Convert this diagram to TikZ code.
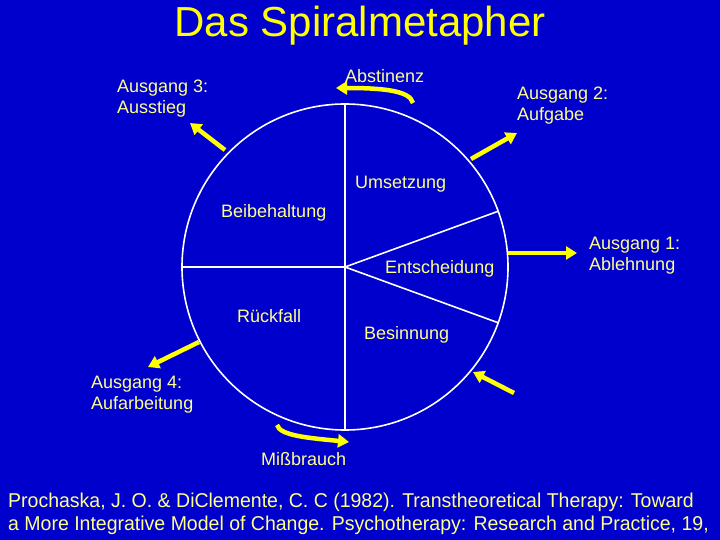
\documentclass[tikz,border=0pt]{standalone}
\usepackage{fontspec}
\setmainfont{Liberation Sans}
\usetikzlibrary{arrows.meta}
\definecolor{bg}{RGB}{0,0,204}
\definecolor{ttl}{RGB}{255,255,0}
\definecolor{lbl}{RGB}{255,255,140}
\definecolor{arr}{RGB}{255,255,0}
\tikzset{
  lab/.style={anchor=base west, inner sep=0pt, text=lbl, font=\fontsize{18}{21}\selectfont, align=left},
  citestyle/.style={anchor=base west, inner sep=0pt, text=lbl, font=\fontsize{20}{23}\selectfont},
  ring/.style={draw=white, line width=1.6pt},
  yarrow/.style={draw=arr, line width=4.5pt, -{Triangle[length=11pt,width=13pt]}},
}
\begin{document}
\begin{tikzpicture}[x=1pt,y=-1pt]
\fill[bg] (0,0) rectangle (720,540);
\useasboundingbox (0,0) rectangle (720,540);
% title
\node[anchor=base, inner sep=0pt, text=ttl, font=\fontsize{42}{44}\selectfont] (title) at (360,37) {Das Spiralmetapher};
% circle and sectors
\coordinate (c) at (345,267);
\draw[ring] (c) circle[radius=163pt];
\draw[ring] (345,104) -- (345,430);
\draw[ring] (182,267) -- (c);
\draw[ring] (c) -- ++(-20:163pt);
\draw[ring] (c) -- ++(20:163pt);
% stage labels
\node[lab] (umsetzung) at (355,189) {Umsetzung};
\node[lab] (beibehaltung) at (221,218) {Beibehaltung};
\node[lab] (entscheidung) at (385,273) {Entscheidung};
\node[lab] (rueckfall) at (237,322) {Rückfall};
\node[lab] (besinnung) at (364,339) {Besinnung};
\node[lab] (missbrauch) at (261,465) {Mißbrauch};
\node[lab] (abstinenz) at (345,82.5) {Abstinenz};
% exits (base = baseline of last line)
\node[lab] (a3) at (117,114) {Ausgang 3:\\Ausstieg};
\node[lab] (a2) at (517,121) {Ausgang 2:\\Aufgabe};
\node[lab] (a1) at (589,270.5) {Ausgang 1:\\Ablehnung};
\node[lab] (a4) at (91,409.5) {Ausgang 4:\\Aufarbeitung};
% arrows
\coordinate (abs-s) at (413,103);
\coordinate (abs-e) at (336,88);
\draw[yarrow] (abs-s) .. controls (410,90) and (380,88) .. (abs-e);
\coordinate (a3-s) at (225,150);
\coordinate (a3-e) at (190,123);
\draw[yarrow] (a3-s) -- (a3-e);
\coordinate (a2-s) at (471,159);
\coordinate (a2-e) at (517,133);
\draw[yarrow] (a2-s) -- (a2-e);
\coordinate (a1-s) at (508,253);
\coordinate (a1-e) at (577,253);
\draw[yarrow] (a1-s) -- (a1-e);
\coordinate (in-s) at (514,393);
\coordinate (in-e) at (473,372);
\draw[yarrow] (in-s) -- (in-e);
\coordinate (a4-s) at (199,342);
\coordinate (a4-e) at (148,367);
\draw[yarrow] (a4-s) -- (a4-e);
\coordinate (m-s) at (277,425);
\coordinate (m-e) at (349,442);
\draw[yarrow] (m-s) .. controls (280,436) and (310,438) .. (m-e);
% citation
\node[citestyle] (cite1) at (8,507) {\scalebox{0.975}[1]{Prochaska, J. O. \& DiClemente, C. C (1982). Transtheoretical Therapy: Toward}};
\node[citestyle] (cite2) at (8,530) {\scalebox{0.975}[1]{a More Integrative Model of Change. Psychotherapy: Research and Practice, 19,}};
\end{tikzpicture}
\end{document}
